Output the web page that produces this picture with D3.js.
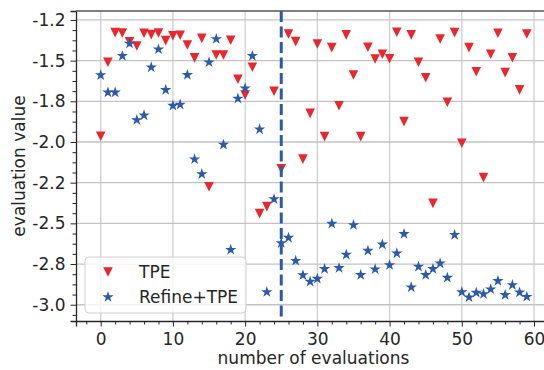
<!DOCTYPE html>
<html>
<head>
<meta charset="utf-8">
<script src="https://cdn.jsdelivr.net/npm/d3@7"></script>
<style>
  body { margin: 0; background: #fff; }
  text { font-family: "DejaVu Sans", sans-serif; fill: #262626; }
</style>
</head>
<body>
<svg id="chart"></svg>
<script>
// evaluation index 0..59
const evals = d3.range(0, 60);

// TPE evaluation values
const tpeValues = [
  -1.965, -1.51, -1.328, -1.33, -1.385, -1.41, -1.332, -1.34, -1.33, -1.377,
  -1.347, -1.344, -1.404, -1.483, -1.363, -2.275, -1.465, -1.465, -1.375, -1.614,
  -1.711, -1.541, -2.44, -2.397, -1.688, -2.165, -1.336, -1.383, -2.105, -1.824,
  -1.398, -1.967, -1.42, -1.777, -1.342, -1.588, -1.967, -1.418, -1.49, -1.461,
  -1.488, -1.326, -1.875, -1.342, -1.51, -1.605, -2.377, -1.367, -1.756, -1.328,
  -2.008, -1.42, -1.568, -2.219, -1.461, -1.332, -1.574, -1.482, -1.68, -1.336
];

// Refine+TPE evaluation values
const refineValues = [
  -1.589, -1.695, -1.695, -1.471, -1.395, -1.865, -1.836, -1.541, -1.43, -1.68,
  -1.777, -1.77, -1.588, -2.106, -2.197, -1.51, -1.367, -2.016, -2.662, -1.733,
  -1.67, -1.471, -1.922, -2.922, -2.351, -2.621, -2.588, -2.73, -2.818, -2.858,
  -2.84, -2.78, -2.502, -2.774, -2.692, -2.51, -2.817, -2.668, -2.782, -2.629,
  -2.756, -2.684, -2.565, -2.893, -2.766, -2.817, -2.78, -2.746, -2.834, -2.571,
  -2.922, -2.954, -2.926, -2.934, -2.905, -2.854, -2.94, -2.879, -2.924, -2.951
];

const xTicks = [0, 10, 20, 30, 40, 50, 60];
const yTicks = [-1.25, -1.5, -1.75, -2.0, -2.25, -2.5, -2.75, -3.0];
const yTickLabels = ["-1.2", "-1.5", "-1.8", "-2.0", "-2.2", "-2.5", "-2.8", "-3.0"];
const splitAt = 25;

const W = 544, H = 370;
const plotL = 76, plotT = 11, plotR = 551, plotB = 321;
const red = "#e8282c", blue = "#2a5aab";

const svg = d3.select("#chart").attr("width", W).attr("height", H);

const x = d3.scaleLinear().domain([-3.42, 62.35]).range([plotL, plotR]);
const y = d3.scaleLinear().domain([-3.1, -1.195]).range([plotB, plotT]);

// grid
svg.append("g").selectAll("line").data(xTicks).enter().append("line")
  .attr("x1", d => x(d)).attr("x2", d => x(d))
  .attr("y1", plotT).attr("y2", plotB)
  .attr("stroke", "#cfcfcf").attr("stroke-width", 1.3);
svg.append("g").selectAll("line").data(yTicks).enter().append("line")
  .attr("x1", plotL).attr("x2", plotR)
  .attr("y1", d => y(d)).attr("y2", d => y(d))
  .attr("stroke", "#c4c4c4").attr("stroke-width", 1.3);

// axes
const xMinor = d3.range(-2, 62, 2).filter(d => d % 10 !== 0);
svg.append("g").attr("transform", "translate(0," + plotB + ")")
  .call(d3.axisBottom(x).tickValues(xMinor).tickSize(3.5).tickFormat(""))
  .call(g => g.select(".domain").remove());
svg.append("g").attr("transform", "translate(0," + plotB + ")")
  .call(d3.axisBottom(x).tickValues(xTicks).tickSize(5.5).tickPadding(6))
  .call(g => g.select(".domain").attr("stroke", "#262626").attr("stroke-width", 1.3))
  .selectAll("text").style("font-size", "17px");

const yMinor = d3.range(-3.0625, -1.2, 0.0625).filter(d => Math.abs(d / 0.25 - Math.round(d / 0.25)) > 0.01);
svg.append("g").attr("transform", "translate(" + plotL + ",0)")
  .call(d3.axisLeft(y).tickValues(yMinor).tickSize(3.5).tickFormat(""))
  .call(g => g.select(".domain").remove());
svg.append("g").attr("transform", "translate(" + plotL + ",0)")
  .call(d3.axisLeft(y).tickValues(yTicks).tickSize(5.5).tickPadding(5)
    .tickFormat((d, i) => yTickLabels[i]))
  .call(g => g.select(".domain").attr("stroke", "#262626").attr("stroke-width", 1.3))
  .selectAll("text").style("font-size", "17px");

svg.selectAll(".tick line").attr("stroke", "#262626");

// top spine
svg.append("line").attr("x1", plotL).attr("x2", plotR).attr("y1", plotT).attr("y2", plotT)
  .attr("stroke", "#555").attr("stroke-width", 1.5);

// markers
const triPath = "M0,4.8L-4.8,-4.8L4.8,-4.8Z";
const star = d3.symbol().type(d3.symbolStar).size(40);

svg.append("g").selectAll("path").data(evals).enter().append("path")
  .attr("d", triPath)
  .attr("transform", d => "translate(" + x(d) + "," + y(tpeValues[d]) + ")")
  .attr("fill", red);

svg.append("g").selectAll("path").data(evals).enter().append("path")
  .attr("d", star)
  .attr("transform", d => "translate(" + x(d) + "," + y(refineValues[d]) + ")")
  .attr("fill", blue);

// split line
svg.append("line")
  .attr("x1", x(splitAt)).attr("x2", x(splitAt))
  .attr("y1", plotT).attr("y2", plotB)
  .attr("stroke", blue).attr("stroke-width", 3)
  .attr("stroke-dasharray", "11,4.5");

// axis titles
svg.append("text")
  .attr("x", (plotL + plotR) / 2).attr("y", 364)
  .attr("text-anchor", "middle").style("font-size", "17px")
  .text("number of evaluations");
svg.append("text")
  .attr("transform", "translate(25," + (plotT + plotB) / 2 + ")rotate(-90)")
  .attr("text-anchor", "middle").style("font-size", "17px")
  .text("evaluation value");

// legend
const legend = svg.append("g").attr("transform", "translate(85,257)");
legend.append("rect")
  .attr("width", 161).attr("height", 56).attr("rx", 4)
  .attr("fill", "#fff").attr("fill-opacity", 0.8)
  .attr("stroke", "#d0d0d0").attr("stroke-width", 1);
legend.append("path").attr("d", triPath).attr("transform", "translate(23,15)").attr("fill", red);
legend.append("path").attr("d", star).attr("transform", "translate(23,40)").attr("fill", blue);
legend.append("text").attr("x", 54).attr("y", 15).attr("dy", "0.36em")
  .style("font-size", "17px").text("TPE");
legend.append("text").attr("x", 54).attr("y", 40).attr("dy", "0.36em")
  .style("font-size", "17px").text("Refine+TPE");
</script>
</body>
</html>
